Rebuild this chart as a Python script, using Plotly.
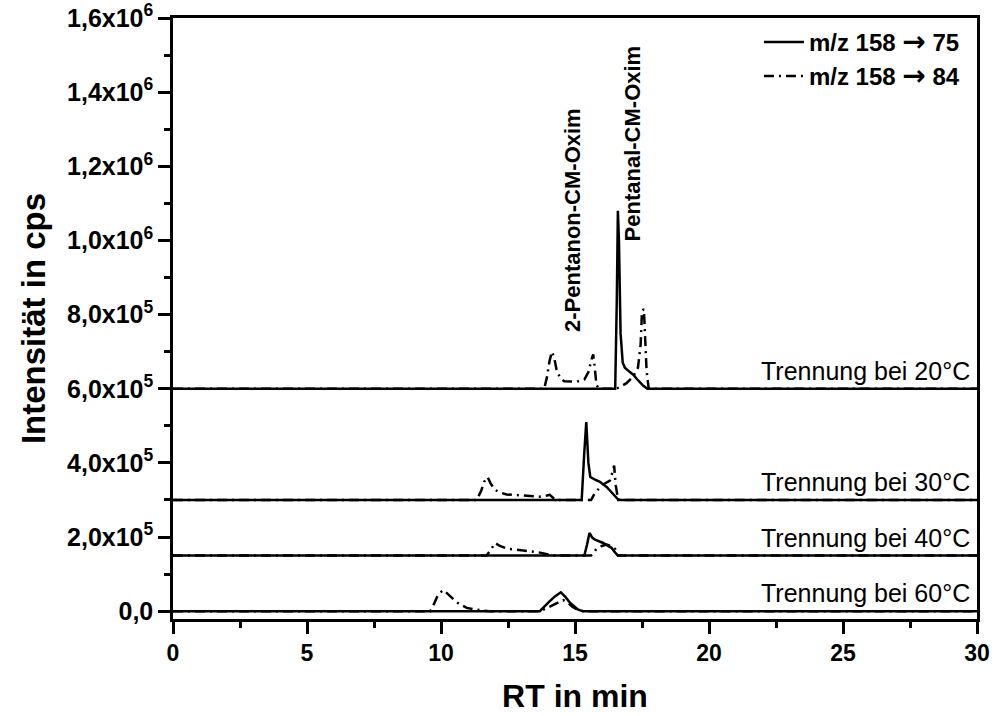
import plotly.graph_objects as go

# ---------------- data (raw intensity above each trace's baseline) ----------------
temps = ["20°C", "30°C", "40°C", "60°C"]
offsets = [6.0e5, 3.0e5, 1.5e5, 0.0]

rt_20_75 = [0, 16.50, 16.56, 16.60, 16.64, 16.70, 16.78, 16.86, 17.05, 17.20, 17.30, 17.45, 17.55, 17.70, 30]
i_20_75 = [0, 0, 2.4e5, 4.8e5, 4.0e5, 1.5e5, 0.7e5, 0.57e5, 0.45e5, 0.36e5, 0.27e5, 0.15e5, 0.08e5, 0, 0]
rt_20_84 = [0, 13.85, 13.95, 14.05, 14.14, 14.22, 14.31, 14.45, 14.60, 15.06, 15.35, 15.50, 15.62, 15.68,
            15.74, 15.80, 15.90, 16.55, 16.70, 16.92, 17.17, 17.35, 17.45, 17.50, 17.57, 17.62, 17.67, 17.75, 30]
i_20_84 = [0, 0, 0.3e5, 0.75e5, 1.0e5, 0.85e5, 0.52e5, 0.28e5, 0.2e5, 0.19e5, 0.25e5, 0.45e5, 0.8e5, 0.93e5,
           0.55e5, 0.1e5, 0, 0, 0.06e5, 0.15e5, 0.33e5, 0.57e5, 1.2e5, 2.1e5, 2.15e5, 1.2e5, 0.5e5, 0, 0]

rt_30_75 = [0, 15.25, 15.34, 15.42, 15.50, 15.57, 15.75, 15.93, 16.18, 16.42, 16.60, 16.70, 30]
i_30_75 = [0, 0, 1.2e5, 2.1e5, 1.0e5, 0.62e5, 0.55e5, 0.49e5, 0.35e5, 0.15e5, 0.02e5, 0, 0]
rt_30_84 = [0, 11.33, 11.50, 11.62, 11.74, 11.85, 12.00, 12.20, 12.45, 13.07, 13.69, 13.95, 14.06, 14.20,
            14.31, 15.60, 15.75, 16.05, 16.30, 16.40, 16.46, 16.52, 16.61, 30]
i_30_84 = [0, 0, 0.25e5, 0.5e5, 0.62e5, 0.45e5, 0.28e5, 0.2e5, 0.15e5, 0.11e5, 0.09e5, 0.12e5, 0.14e5, 0.05e5,
           0, 0, 0.2e5, 0.42e5, 0.52e5, 0.75e5, 0.93e5, 0.4e5, 0, 0]

rt_40_75 = [0, 15.35, 15.45, 15.54, 15.65, 15.75, 16.05, 16.36, 16.50, 16.60, 30]
i_40_75 = [0, 0, 0.3e5, 0.61e5, 0.48e5, 0.43e5, 0.34e5, 0.21e5, 0.08e5, 0, 0]
rt_40_84 = [0, 11.70, 11.85, 12.02, 12.20, 12.45, 13.07, 13.69, 14.19, 15.60, 15.80, 16.00, 16.18, 16.37, 16.50, 16.60, 30]
i_40_84 = [0, 0, 0.15e5, 0.34e5, 0.26e5, 0.19e5, 0.14e5, 0.08e5, 0, 0, 0.18e5, 0.26e5, 0.3e5, 0.25e5, 0.18e5, 0, 0]

rt_60_75 = [0, 13.69, 14.00, 14.25, 14.47, 14.65, 14.81, 15.00, 15.12, 15.30, 30]
i_60_75 = [0, 0, 0.23e5, 0.4e5, 0.51e5, 0.38e5, 0.23e5, 0.1e5, 0.04e5, 0, 0]
rt_60_84 = [0, 9.60, 9.71, 9.85, 9.96, 10.09, 10.20, 10.34, 10.50, 10.65, 10.96, 11.33, 11.80, 13.70, 14.00,
            14.30, 14.56, 14.75, 14.90, 15.10, 15.30, 30]
i_60_84 = [0, 0, 0.15e5, 0.38e5, 0.5e5, 0.57e5, 0.5e5, 0.4e5, 0.3e5, 0.21e5, 0.09e5, 0.04e5, 0, 0, 0.1e5,
           0.22e5, 0.3e5, 0.22e5, 0.12e5, 0.04e5, 0, 0]

series_75 = [(rt_20_75, i_20_75), (rt_30_75, i_30_75), (rt_40_75, i_40_75), (rt_60_75, i_60_75)]
series_84 = [(rt_20_84, i_20_84), (rt_30_84, i_30_84), (rt_40_84, i_40_84), (rt_60_84, i_60_84)]

ARROW = "<span style=\"font-family:'DejaVu Sans';font-size:28px\">\u2192</span>"
legend_names = ["m/z 158 " + ARROW + " 75", "m/z 158 " + ARROW + " 84"]
y_tickvals = [0, 2e5, 4e5, 6e5, 8e5, 1.0e6, 1.2e6, 1.4e6, 1.6e6]
y_ticktext = ["0,0", "2,0x10<sup>5</sup>", "4,0x10<sup>5</sup>", "6,0x10<sup>5</sup>", "8,0x10<sup>5</sup>",
              "1,0x10<sup>6</sup>", "1,2x10<sup>6</sup>", "1,4x10<sup>6</sup>", "1,6x10<sup>6</sup>"]
compound_labels = [("2-Pentanon-CM-Oxim", 14.9, 1.056e6), ("Pentanal-CM-Oxim", 17.13, 1.262e6)]

FONT = "Liberation Sans, Arial, sans-serif"
DASHDOT = "10px,5px,2px,5px"
LW = 2.5

fig = go.Figure()
for k, (off, (x84, y84)) in enumerate(zip(offsets, series_84)):
    fig.add_trace(go.Scatter(x=x84, y=[v + off for v in y84], mode="lines",
                             line=dict(color="black", width=LW, dash=DASHDOT),
                             name=legend_names[1], legendgroup="84", showlegend=(k == 0),
                             legendrank=2))
for k, (off, (x75, y75)) in enumerate(zip(offsets, series_75)):
    fig.add_trace(go.Scatter(x=x75, y=[v + off for v in y75], mode="lines",
                             line=dict(color="black", width=LW),
                             name=legend_names[0], legendgroup="75", showlegend=(k == 0),
                             legendrank=1))

for t, off in zip(temps, offsets):
    fig.add_annotation(x=30, y=off, xref="x", yref="y", text="Trennung bei " + t,
                       showarrow=False, xanchor="right", yanchor="bottom", xshift=-5, yshift=2,
                       font=dict(family=FONT, size=25, color="black"))

for txt, xv, yv in compound_labels:
    fig.add_annotation(x=xv, y=yv, xref="x", yref="y", text=txt, textangle=-90,
                       showarrow=False, xanchor="center", yanchor="middle",
                       font=dict(family=FONT, size=22, color="black", weight="bold"))

fig.update_layout(
    width=994, height=716,
    margin=dict(l=173, r=17, t=18, b=97),
    paper_bgcolor="white", plot_bgcolor="white",
    font=dict(family=FONT, color="black"),
    showlegend=True,
    legend=dict(x=0.985, y=0.997, xanchor="right", yanchor="top", bgcolor="rgba(0,0,0,0)",
                borderwidth=0, font=dict(family=FONT, size=24, color="black", weight="bold"),
                traceorder="normal", tracegroupgap=0, itemwidth=40),
)
fig.update_xaxes(
    range=[0, 30], tickvals=[0, 5, 10, 15, 20, 25, 30], ticks="outside", ticklen=12, tickwidth=2.5,
    tickcolor="black", showline=True, linewidth=2.5, linecolor="black", mirror=True,
    showgrid=False, zeroline=False, automargin=False,
    minor=dict(dtick=2.5, ticks="outside", ticklen=6, tickwidth=2.5, tickcolor="black", showgrid=False),
    tickfont=dict(family=FONT, size=23, color="black", weight="bold"),
    title=dict(text="RT in min", font=dict(family=FONT, size=32, color="black", weight="bold"), standoff=20),
)
fig.update_yaxes(
    range=[-2.1e4, 1.6e6], tickvals=y_tickvals, ticktext=y_ticktext, ticks="outside", ticklen=12,
    tickwidth=2.5, tickcolor="black", showline=True, linewidth=2.5, linecolor="black", mirror=True,
    showgrid=False, zeroline=False, automargin=False,
    minor=dict(dtick=1e5, tick0=0, ticks="outside", ticklen=6, tickwidth=2.5, tickcolor="black", showgrid=False),
    tickfont=dict(family=FONT, size=25, color="black", weight="bold"),
    title=dict(text="Intensität in cps", font=dict(family=FONT, size=33, color="black", weight="bold"), standoff=12),
)

fig.write_html("out.html")
